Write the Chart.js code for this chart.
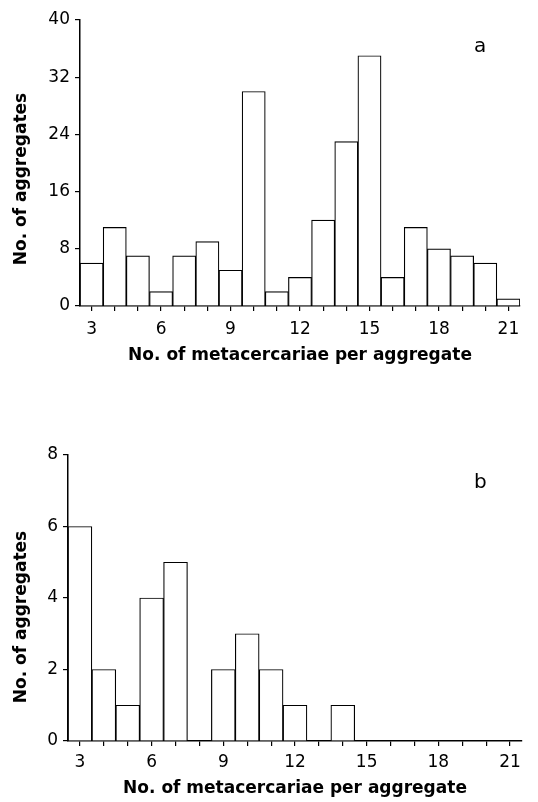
<!DOCTYPE html>
<html>
<head>
<meta charset="utf-8">
<script src="https://cdn.jsdelivr.net/npm/chart.js@4/dist/chart.umd.min.js"></script>
<style>
  body { margin: 0; background: #fff; width: 538px; height: 802px; position: relative; overflow: hidden; }
  .panel { position: absolute; left: 0; width: 538px; }
  .tag { position: absolute; font: 20px/20px "DejaVu Sans", sans-serif; color: #000; }
  .ytitle {
    position: absolute; width: 300px; height: 22px; line-height: 22px; text-align: center;
    font: bold 17px/22px "DejaVu Sans", sans-serif; color: #000;
    transform: rotate(-90deg); transform-origin: 150px 11px;
  }
</style>
</head>
<body>
<div class="panel" style="top:0;height:370px"><canvas id="chartA"></canvas></div>
<div class="panel" style="top:420px;height:382px"><canvas id="chartB"></canvas></div>
<div class="ytitle" id="yTitleA" style="left:-130px;top:168px"></div>
<div class="ytitle" id="yTitleB" style="left:-130px;top:606px"></div>
<div class="tag" style="left:474px;top:35px">a</div>
<div class="tag" style="left:474px;top:471px">b</div>
<script>
// bins (no. of metacercariae per aggregate)
const binsA = [3, 4, 5, 6, 7, 8, 9, 10, 11, 12, 13, 14, 15, 16, 17, 18, 19, 20, 21];
const countsA = [6, 11, 7, 2, 7, 9, 5, 30, 2, 4, 12, 23, 35, 4, 11, 8, 7, 6, 1];

const binsB = [3, 4, 5, 6, 7, 8, 9, 10, 11, 12, 13, 14, 15, 16, 17, 18, 19, 20, 21];
const countsB = [6, 2, 1, 4, 5, 0, 2, 3, 2, 1, 0, 1, 0, 0, 0, 0, 0, 0, 0];

const xTitle = "No. of metacercariae per aggregate";
const yTitle = "No. of aggregates";

document.getElementById("yTitleA").textContent = yTitle;
document.getElementById("yTitleB").textContent = yTitle;

const fontFamily = '"DejaVu Sans", sans-serif';

const makeChart = (id, bins, counts, yMax, yStep, opts) => {
    const ctx = document.getElementById(id).getContext("2d");
    return new Chart(ctx, {
        type: "bar",
        data: {
            labels: bins,
            datasets: [{
                data: counts,
                backgroundColor: "#fff",
                borderColor: "#000",
                borderWidth: 1.2,
                categoryPercentage: 1,
                barPercentage: 1,
            }],
        },
        options: {
            responsive: true,
            maintainAspectRatio: false,
            animation: false,
            layout: { padding: { top: opts.top, right: opts.right, left: 0, bottom: 0 } },
            plugins: { legend: { display: false }, tooltip: { enabled: false } },
            scales: {
                x: {
                    grid: { drawOnChartArea: false, offset: false, tickLength: 5, color: "#000", lineWidth: 1.2 },
                    border: { color: "#000", width: 1.5 },
                    ticks: {
                        autoSkip: false, maxRotation: 0, padding: opts.xPad, color: "#000",
                        font: { family: fontFamily, size: 17 },
                        callback: function (value) {
                            const lbl = this.getLabelForValue(value);
                            return lbl % 3 === 0 ? String(lbl) : "";
                        },
                    },
                    title: {
                        display: true, text: xTitle, color: "#000",
                        font: { family: fontFamily, size: 17, weight: "bold" },
                        padding: { top: 0, bottom: opts.titlePad },
                    },
                    afterFit: (scale) => { scale.height = opts.xHeight; },
                },
                y: {
                    min: 0, max: yMax,
                    grid: { drawOnChartArea: false, tickLength: 5, color: "#000", lineWidth: 1.2 },
                    border: { color: "#000", width: 1.5 },
                    ticks: {
                        stepSize: yStep, padding: 5, color: "#000",
                        font: { family: fontFamily, size: 17 },
                    },
                    afterFit: (scale) => { scale.width = opts.yWidth; },
                },
            },
        },
    });
};

makeChart("chartA", binsA, countsA, 40, 8, { top: 20, right: 18, xHeight: 64, yWidth: 80, xPad: 8, titlePad: 4 });
makeChart("chartB", binsB, countsB, 8, 2, { top: 35, right: 16, xHeight: 61, yWidth: 68, xPad: 6, titlePad: 3 });
</script>
</body>
</html>
